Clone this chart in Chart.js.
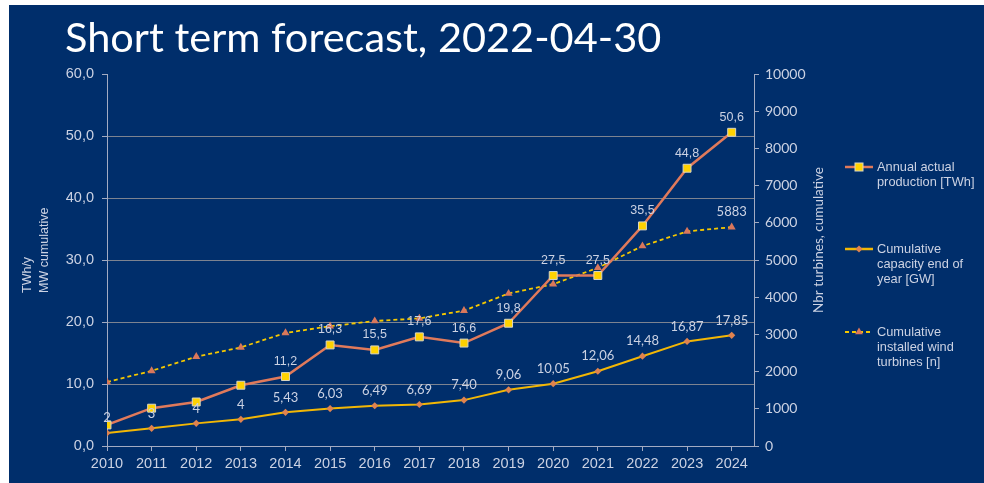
<!DOCTYPE html>
<html>
<head>
<meta charset="utf-8">
<title>Short term forecast</title>
<script src="https://cdn.jsdelivr.net/npm/chart.js@4.4.1/dist/chart.umd.min.js"></script>
<style>
  html, body { margin: 0; padding: 0; background: #fff; }
  #wrap { width: 984px; height: 483px; }
</style>
</head>
<body>
<div id="wrap"><canvas id="forecastChart" width="984" height="483"></canvas></div>
<script>
// Data
const years = [2010, 2011, 2012, 2013, 2014, 2015, 2016, 2017, 2018, 2019, 2020, 2021, 2022, 2023, 2024];
const production = [3.4, 6.1, 7.1, 9.8, 11.2, 16.3, 15.5, 17.6, 16.6, 19.8, 27.5, 27.5, 35.5, 44.8, 50.6];
const capacity = [2.1, 2.85, 3.65, 4.3, 5.43, 6.03, 6.49, 6.69, 7.40, 9.06, 10.05, 12.06, 14.48, 16.87, 17.85];
const turbines = [1720, 2020, 2400, 2650, 3040, 3220, 3360, 3430, 3640, 4100, 4350, 4790, 5375, 5770, 5883];

const productionLabels = [null, null, null, null, '11,2', '16,3', '15,5', '17,6', '16,6', '19,8', '27,5', '27,5', '35,5', '44,8', '50,6'];
const capacityLabels = ['2', '3', '4', '4', '5,43', '6,03', '6,49', '6,69', '7,40', '9,06', '10,05', '12,06', '14,48', '16,87', '17,85'];
const turbineLabels = [null, null, null, null, null, null, null, null, null, null, null, null, null, null, '5883'];

const chartTitle = 'Short term forecast, 2022-04-30';
const leftAxisTitle = ['TWh/y', 'MW cumulative'];
const rightAxisTitle = 'Nbr turbines, cumulative';
const legendTexts = [
  ['Annual actual', 'production [TWh]'],
  ['Cumulative', 'capacity end of', 'year [GW]'],
  ['Cumulative', 'installed wind', 'turbines [n]']
];

const NAVY = '#002e6b';
const TEXT = '#cbd2e3';
const GRID = '#7d8390';
const AXIS = '#a3abc2';
const PROD_LINE = '#e07a5b';
const PROD_FILL = '#ffd200';
const CAP_LINE = '#f2b705';
const CAP_FILL = '#e0834f';
const TURB_LINE = '#f5c800';
const TURB_FILL = '#d9775c';

const toPoints = (values) => values.map((v, i) => ({ x: years[i], y: v }));
const labelSets = [
  { texts: productionLabels, font: '12.5px "Liberation Sans"' },
  { texts: capacityLabels, font: '13px Lato' },
  { texts: turbineLabels, font: '13px Lato' }
];

// small marker helpers for the legend
const drawSquare = (ctx, x, y) => {
  ctx.fillStyle = PROD_FILL;
  ctx.fillRect(x - 4, y - 4, 8, 8);
  ctx.strokeStyle = '#d9d6c4';
  ctx.lineWidth = 1;
  ctx.strokeRect(x - 4, y - 4, 8, 8);
};
const drawDiamond = (ctx, x, y) => {
  ctx.fillStyle = CAP_FILL;
  ctx.beginPath();
  ctx.moveTo(x, y - 3.5);
  ctx.lineTo(x + 3.5, y);
  ctx.lineTo(x, y + 3.5);
  ctx.lineTo(x - 3.5, y);
  ctx.closePath();
  ctx.fill();
};
const drawTriangle = (ctx, x, y) => {
  ctx.fillStyle = TURB_FILL;
  ctx.beginPath();
  ctx.moveTo(x, y - 4.5);
  ctx.lineTo(x + 3.9, y + 2.3);
  ctx.lineTo(x - 3.9, y + 2.3);
  ctx.closePath();
  ctx.fill();
};

const decorPlugin = {
  id: 'decor',
  beforeDraw(chart) {
    const ctx = chart.ctx;
    ctx.save();
    ctx.fillStyle = '#ffffff';
    ctx.fillRect(0, 0, chart.width, chart.height);
    ctx.fillStyle = NAVY;
    ctx.fillRect(9, 5, chart.width - 9, chart.height - 5);
    ctx.fillStyle = '#ffffff';
    ctx.font = '41.5px Lato';
    ctx.textBaseline = 'alphabetic';
    ctx.textAlign = 'left';
    ctx.fillText(chartTitle, 65, 52);
    ctx.restore();
  },
  afterDatasetsDraw(chart) {
    const ctx = chart.ctx;
    ctx.save();
    ctx.fillStyle = TEXT;
    ctx.textAlign = 'center';
    ctx.textBaseline = 'middle';
    labelSets.forEach((set, di) => {
      const meta = chart.getDatasetMeta(di);
      ctx.font = set.font;
      meta.data.forEach((pt, i) => {
        if (set.texts[i]) ctx.fillText(set.texts[i], pt.x, pt.y - 15);
      });
    });
    ctx.restore();
  },
  afterDraw(chart) {
    const ctx = chart.ctx;
    ctx.save();
    ctx.fillStyle = TEXT;

    // left axis title, two rotated lines
    ctx.font = '12.5px "Liberation Sans"';
    ctx.textAlign = 'left';
    ctx.textBaseline = 'middle';
    ctx.translate(28, 293);
    ctx.rotate(-Math.PI / 2);
    leftAxisTitle.forEach((line, i) => ctx.fillText(line, 0, i * 17));
    ctx.restore();

    ctx.save();
    ctx.fillStyle = TEXT;
    ctx.font = '13.5px Lato';
    ctx.textAlign = 'center';
    ctx.textBaseline = 'middle';
    ctx.translate(819, 240);
    ctx.rotate(-Math.PI / 2);
    ctx.fillText(rightAxisTitle, 0, 0);
    ctx.restore();

    // legend
    ctx.save();
    const rows = [167, 249, 332];
    const lineColors = [PROD_LINE, CAP_LINE, TURB_LINE];
    const markers = [drawSquare, drawDiamond, drawTriangle];
    rows.forEach((y, i) => {
      ctx.strokeStyle = lineColors[i];
      ctx.lineWidth = i === 2 ? 1.8 : 2.5;
      ctx.setLineDash(i === 2 ? [4, 3] : []);
      ctx.beginPath();
      ctx.moveTo(845, y);
      ctx.lineTo(873, y);
      ctx.stroke();
      ctx.setLineDash([]);
      markers[i](ctx, 859, y);
      ctx.fillStyle = TEXT;
      ctx.font = '12.8px "Liberation Sans"';
      ctx.textAlign = 'left';
      ctx.textBaseline = 'middle';
      legendTexts[i].forEach((t, k) => ctx.fillText(t, 877, y + k * 15));
    });
    ctx.restore();
  }
};

const ctx = document.getElementById('forecastChart').getContext('2d');
new Chart(ctx, {
  type: 'line',
  data: {
    datasets: [
      {
        label: 'Annual actual production [TWh]',
        data: toPoints(production),
        yAxisID: 'y',
        borderColor: PROD_LINE,
        borderWidth: 2.5,
        pointStyle: 'rect',
        pointRadius: 5.6,
        pointBackgroundColor: PROD_FILL,
        pointBorderColor: '#d9d6c4',
        pointBorderWidth: 1
      },
      {
        label: 'Cumulative capacity end of year [GW]',
        data: toPoints(capacity),
        yAxisID: 'y',
        borderColor: CAP_LINE,
        borderWidth: 2,
        pointStyle: 'rectRot',
        pointRadius: 3.6,
        pointBackgroundColor: CAP_FILL,
        pointBorderColor: CAP_FILL,
        pointBorderWidth: 0
      },
      {
        label: 'Cumulative installed wind turbines [n]',
        data: toPoints(turbines),
        yAxisID: 'y1',
        borderColor: TURB_LINE,
        borderWidth: 1.8,
        borderDash: [4, 3],
        pointStyle: 'triangle',
        pointRadius: 4.6,
        pointBackgroundColor: TURB_FILL,
        pointBorderColor: TURB_FILL,
        pointBorderWidth: 0
      }
    ]
  },
  options: {
    responsive: false,
    animation: false,
    devicePixelRatio: 1,
    layout: { padding: { left: 0, top: 74, right: 150, bottom: 0 } },
    plugins: {
      legend: { display: false },
      tooltip: { enabled: false }
    },
    scales: {
      x: {
        type: 'linear',
        min: 2010,
        max: 2024.5,
        ticks: {
          stepSize: 1,
          includeBounds: false,
          autoSkip: false,
          maxRotation: 0,
          color: TEXT,
          padding: 4,
          font: { family: 'Liberation Sans', size: 14.5 },
          callback: (v) => String(v)
        },
        grid: { drawOnChartArea: false, tickLength: 5, color: AXIS },
        border: { color: AXIS },
        afterFit: (s) => { s.height = 37; }
      },
      y: {
        position: 'left',
        min: 0,
        max: 60,
        ticks: {
          stepSize: 10,
          color: TEXT,
          padding: 8,
          font: { family: 'Liberation Sans', size: 14.5 },
          callback: (v) => v.toFixed(1).replace('.', ',')
        },
        grid: {
          color: (c) => (c.tick && c.tick.value > 0 && c.tick.value < 60) ? GRID : 'rgba(0,0,0,0)',
          tickColor: AXIS,
          tickLength: 5
        },
        border: { color: AXIS },
        afterFit: (s) => { s.width = 107; }
      },
      y1: {
        position: 'right',
        min: 0,
        max: 10000,
        ticks: {
          stepSize: 1000,
          color: TEXT,
          padding: 6,
          font: { family: 'Lato', size: 14 },
          callback: (v) => String(v)
        },
        grid: { drawOnChartArea: false, tickLength: 5, color: AXIS },
        border: { color: AXIS },
        afterFit: (s) => { s.width = 80; }
      }
    }
  },
  plugins: [decorPlugin]
});
</script>
</body>
</html>
